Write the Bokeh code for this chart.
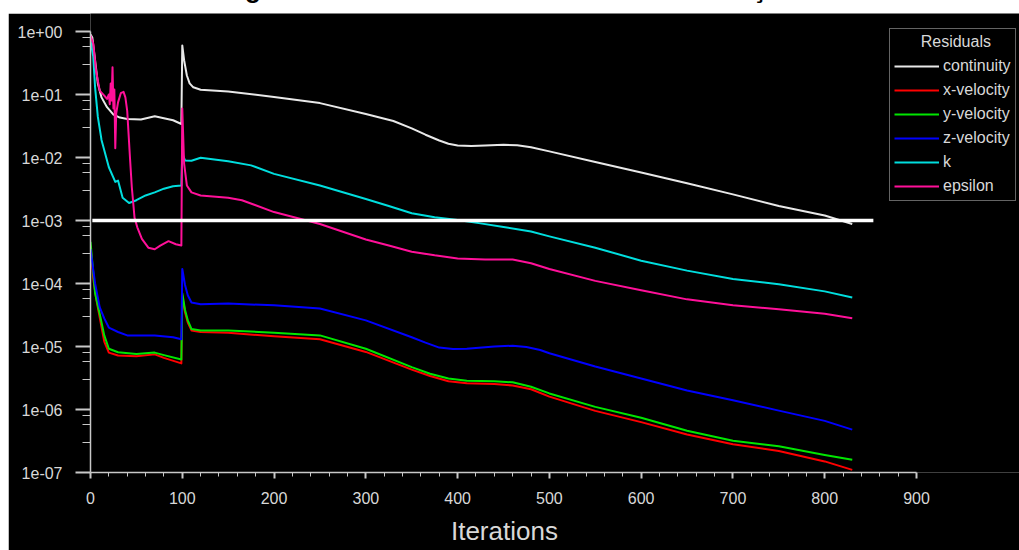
from bokeh.plotting import figure
from bokeh.models import FixedTicker, Legend, LegendItem, Div, Range1d
from bokeh.layouts import column
from bokeh.embed import file_html
from bokeh.resources import INLINE

# ---------------- data ----------------
title_text = "Figura 11 – Gráfico dos resíduos da simulação"
x_label = "Iterations"
legend_title = "Residuals"

cont_it = [0, 2, 5, 8, 12, 18, 25, 32, 40, 55, 70, 80, 90, 99, 100, 102, 105, 108, 112, 120, 150,
           200, 250, 300, 330, 350, 365, 380, 390, 400, 415, 430, 450, 465, 480, 500, 550, 600,
           650, 700, 750, 800, 830]
cont_val = [0.9, 0.8, 0.35, 0.15, 0.09, 0.063, 0.048, 0.043, 0.041, 0.040, 0.045, 0.042, 0.039,
            0.034, 0.6, 0.35, 0.2, 0.15, 0.13, 0.119, 0.112, 0.091, 0.073, 0.049, 0.038, 0.029,
            0.023, 0.0186, 0.0165, 0.0155, 0.0152, 0.0155, 0.0159, 0.0157, 0.0145, 0.0125,
            0.0085, 0.0058, 0.0039, 0.0026, 0.0017, 0.0012, 0.00088]

xvel_it = [0, 3, 6, 10, 15, 20, 30, 50, 70, 80, 99, 100, 103, 106, 110, 120, 150, 200, 250, 300,
           350, 370, 390, 410, 440, 460, 480, 500, 550, 600, 650, 700, 750, 800, 830]
xvel_val = [0.0004, 0.00012, 6e-5, 2.9e-5, 1.2e-5, 8e-6, 7.2e-6, 7e-6, 7.5e-6, 6.6e-6, 5.4e-6,
            6.5e-5, 3.5e-5, 2.4e-5, 1.8e-5, 1.7e-5, 1.65e-5, 1.45e-5, 1.3e-5, 8.2e-6, 4.3e-6,
            3.4e-6, 2.8e-6, 2.6e-6, 2.55e-6, 2.4e-6, 2.1e-6, 1.6e-6, 9.5e-7, 6.3e-7, 4e-7, 2.8e-7,
            2.2e-7, 1.5e-7, 1.1e-7]

yvel_it = [0, 3, 5, 10, 15, 20, 30, 50, 70, 80, 99, 100, 103, 106, 110, 120, 150, 200, 250, 300,
           350, 370, 390, 410, 440, 460, 480, 500, 550, 600, 650, 700, 750, 800, 830]
yvel_val = [0.00046, 0.00015, 7e-5, 3.3e-5, 1.5e-5, 9.2e-6, 8.1e-6, 7.6e-6, 8e-6, 7.3e-6, 6.2e-6,
            7e-5, 3.8e-5, 2.6e-5, 1.9e-5, 1.8e-5, 1.8e-5, 1.66e-5, 1.5e-5, 9.2e-6, 4.7e-6,
            3.7e-6, 3.1e-6, 2.85e-6, 2.8e-6, 2.7e-6, 2.3e-6, 1.8e-6, 1.1e-6, 7.4e-7, 4.6e-7,
            3.2e-7, 2.6e-7, 1.9e-7, 1.6e-7]

zvel_it = [0, 5, 10, 15, 20, 30, 40, 60, 70, 90, 99, 100, 103, 106, 110, 120, 150, 200, 250, 300,
           350, 365, 380, 395, 410, 440, 460, 475, 490, 500, 550, 600, 650, 700, 750, 800, 830]
zvel_val = [0.00035, 1e-4, 4.2e-5, 2.8e-5, 2e-5, 1.7e-5, 1.5e-5, 1.5e-5, 1.5e-5, 1.4e-5, 1.3e-5,
            1.7e-4, 9.5e-5, 6.5e-5, 5e-5, 4.7e-5, 4.8e-5, 4.5e-5, 4e-5, 2.6e-5, 1.4e-5, 1.15e-5,
            9.6e-6, 9.1e-6, 9.2e-6, 1e-5, 1.03e-5, 9.8e-6, 8.8e-6, 7.8e-6, 4.8e-6, 3.1e-6, 2e-6,
            1.4e-6, 9.6e-7, 6.6e-7, 4.8e-7]

k_it = [0, 3, 5, 8, 12, 20, 27, 30, 35, 42, 50, 60, 70, 80, 90, 99, 100, 103, 110, 120, 150, 175,
        200, 250, 300, 325, 350, 375, 400, 425, 450, 480, 500, 550, 600, 650, 700, 750, 800, 830]
k_val = [0.72, 0.4, 0.13, 0.044, 0.019, 0.007, 0.0041, 0.0043, 0.0023, 0.0019, 0.0021, 0.0025,
         0.0028, 0.0032, 0.0035, 0.0036, 0.0115, 0.009, 0.0089, 0.0099, 0.0087, 0.0075, 0.0055,
         0.0036, 0.0022, 0.0017, 0.0013, 0.00113, 0.00102, 0.0009, 0.00079, 0.00067, 0.00056,
         0.00037, 0.00023, 0.00016, 0.000118, 9.7e-5, 7.5e-5, 6e-5]

eps_it = [0, 3, 6, 10, 15, 18, 20, 21, 22, 23, 24, 25, 26, 27, 28, 30, 33, 36, 38, 40, 43, 45, 48,
          51, 56, 63, 70, 76, 85, 93, 99, 100, 102, 105, 110, 120, 150, 165, 200, 250, 300, 325,
          350, 375, 400, 430, 460, 480, 500, 550, 600, 650, 700, 750, 800, 830]
eps_val = [0.86, 0.64, 0.24, 0.115, 0.096, 0.085, 0.1, 0.07, 0.15, 0.08, 0.27, 0.06, 0.12, 0.014,
           0.05, 0.075, 0.105, 0.11, 0.09, 0.055, 0.01, 0.0034, 0.0011, 0.00078, 0.00051, 0.00037,
           0.00035, 0.0004, 0.00047, 0.00042, 0.0004, 0.06, 0.008, 0.0036, 0.0028, 0.0025, 0.0023,
           0.0021, 0.00136, 0.00088, 0.0005, 0.0004, 0.00032, 0.00028, 0.00025, 0.00024,
           0.00024, 0.00021, 0.00017, 0.00011, 7.8e-5, 5.6e-5, 4.5e-5, 3.9e-5, 3.3e-5, 2.8e-5]

limit_it = [2, 853]
limit_val = [1e-3, 1e-3]

series_names = ["continuity", "x-velocity", "y-velocity", "z-velocity", "k", "epsilon"]
series_colors = ["#e8e8e8", "#ff0000", "#00e600", "#0000ff", "#00dede", "#ff1099"]

x_ticks = [0, 100, 200, 300, 400, 500, 600, 700, 800, 900]
y_ticks = [1e-7, 1e-6, 1e-5, 1e-4, 1e-3, 1e-2, 1e-1, 1e0]
y_tick_labels = ["1e-07", "1e-06", "1e-05", "1e-04", "1e-03", "1e-02", "1e-01", "1e+00"]
y_minor_factors = [0.3, 0.57, 0.8]

# ---------------- layout geometry (pixels) ----------------
FIG_W, FIG_H = 1011, 537
LEFT, BOTTOM = 82, 78                 # borders
AX_RIGHT_PX, AX_TOP_PX = 908, 18      # where x=900 and y=1 sit inside the figure
px_per_x = (AX_RIGHT_PX - LEFT) / (x_ticks[-1] - x_ticks[0])
px_per_decade = (FIG_H - BOTTOM - AX_TOP_PX) / 7.0
x_end = x_ticks[0] + (FIG_W - LEFT) / px_per_x
y_end = y_ticks[-1] * 10 ** (AX_TOP_PX / px_per_decade)
# the frame runs past x=900 (room for the legend); pad the axis label so that it
# stays centred under the 0..900 axis line
label_pad = "\u00a0" * 14

fg = "#d8d8d8"
p = figure(width=FIG_W, height=FIG_H, y_axis_type="log", output_backend="svg",
           toolbar_location=None, x_range=Range1d(x_ticks[0], x_end),
           y_range=Range1d(y_ticks[0], y_end),
           background_fill_color="black", border_fill_color="black",
           min_border_left=LEFT, min_border_right=0, min_border_top=0,
           min_border_bottom=BOTTOM, margin=(0, 0, 0, 8))
p.outline_line_color = None
p.grid.visible = False

x_minor = [t for t in range(0, 901, 20) if t % 100]
p.xaxis.ticker = FixedTicker(ticks=x_ticks, minor_ticks=x_minor)
p.xaxis.bounds = (x_ticks[0], x_ticks[-1])
y_minor = [d * f * 10 for d in y_ticks[:-1] for f in y_minor_factors]
p.yaxis.ticker = FixedTicker(ticks=y_ticks, minor_ticks=y_minor)
p.yaxis.bounds = (y_ticks[0], y_ticks[-1])
p.yaxis.major_label_overrides = {t: l for t, l in zip(y_ticks, y_tick_labels)}

for ax in (p.xaxis[0], p.yaxis[0]):
    ax.axis_line_color = "#c8c8c8"
    ax.axis_line_width = 1.5
    ax.major_tick_line_color = "#c8c8c8"
    ax.minor_tick_line_color = "#c8c8c8"
    ax.major_tick_line_width = 2
    ax.minor_tick_line_width = 1
    ax.major_tick_in = 0
    ax.minor_tick_in = 0
    ax.major_label_text_color = fg
    ax.major_label_text_font = "Liberation Sans"
    ax.major_label_text_font_size = "16px"

p.xaxis.major_tick_out = 6
p.xaxis.minor_tick_out = 4
p.xaxis.major_label_standoff = 13
p.xaxis.axis_label = x_label + label_pad
p.xaxis.axis_label_text_font = "Liberation Sans"
p.xaxis.axis_label_text_font_size = "26px"
p.xaxis.axis_label_text_font_style = "normal"
p.xaxis.axis_label_text_color = fg
p.xaxis.axis_label_standoff = 9

p.yaxis.major_tick_out = 15
p.yaxis.minor_tick_out = 8
p.yaxis.major_label_standoff = 13

data = [(cont_it, cont_val), (xvel_it, xvel_val), (yvel_it, yvel_val),
        (zvel_it, zvel_val), (k_it, k_val), (eps_it, eps_val)]
renderers = []
for (xs, ys), c in zip(data, series_colors):
    renderers.append(p.line(xs, ys, line_color=c, line_width=2, line_join="round"))

p.line(limit_it, limit_val, line_color="white", line_width=3.5)

legend = Legend(items=[LegendItem(label=n, renderers=[r]) for n, r in zip(series_names, renderers)],
                location=(799, 271), title="\u00a0" * 6 + legend_title,
                background_fill_color="black", background_fill_alpha=1,
                border_line_color="#c8c8c8", border_line_width=1,
                label_text_color=fg, label_text_font="Liberation Sans",
                label_text_font_size="16px",
                title_text_color=fg, title_text_font="Liberation Sans",
                title_text_font_size="16px", title_text_font_style="normal",
                title_standoff=5,
                glyph_width=45, glyph_height=20, label_height=20, label_standoff=4,
                spacing=4, padding=4, margin=0)
p.add_layout(legend, "center")

title_div = Div(text=(f'<div style="position:relative; top:-24px; width:1019px; text-align:center; '
                      f'font-family:\'Liberation Sans\'; font-weight:bold; font-size:26px; '
                      f'line-height:26px; color:black; white-space:nowrap;">{title_text}</div>'),
                width=1019, height=13, styles={"overflow": "hidden"}, margin=0)

layout = column(title_div, p, spacing=0)
open("out.html", "w").write(file_html(layout, INLINE))
